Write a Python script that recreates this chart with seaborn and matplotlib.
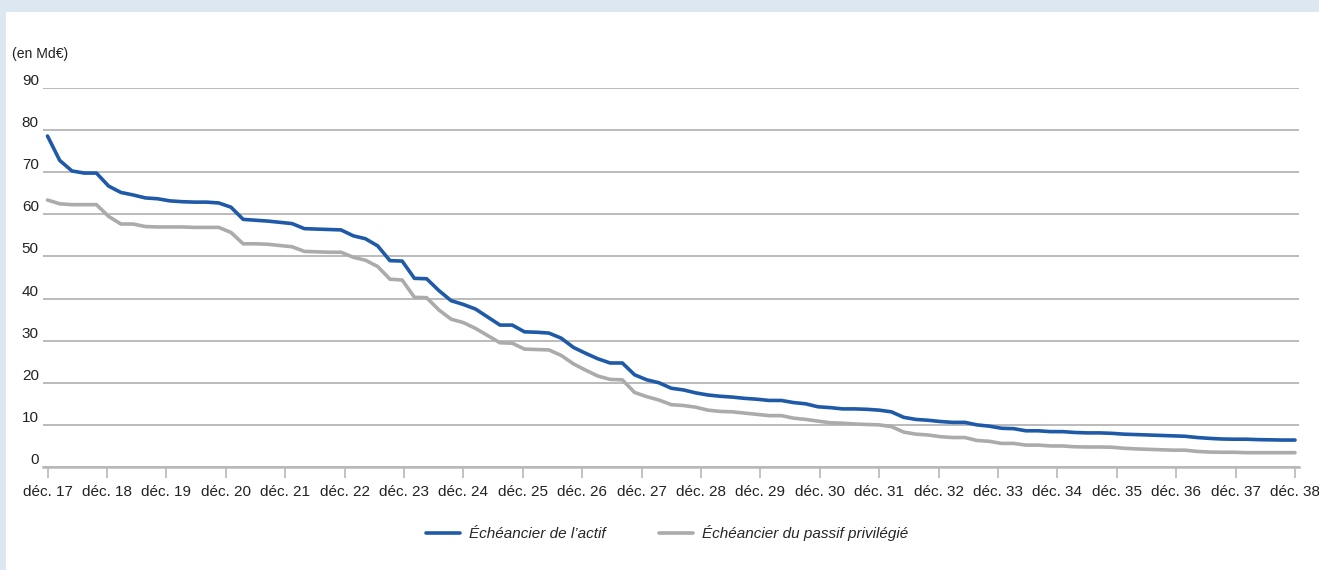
import numpy as np
import pandas as pd
import matplotlib
matplotlib.use("Agg")
import matplotlib.pyplot as plt
from matplotlib import font_manager
from matplotlib.patches import Rectangle
import seaborn as sns

# Amortisation schedules (en Md€), evenly spaced from déc. 17 to déc. 38
actif = [
    78.6, 72.8, 70.3, 69.8, 69.8, 66.7, 65.2, 64.6, 63.9, 63.7,
    63.2, 63.0, 62.9, 62.9, 62.7, 61.7, 58.8, 58.6, 58.4, 58.1,
    57.8, 56.6, 56.5, 56.4, 56.3, 54.9, 54.2, 52.5, 49.0, 48.9,
    44.8, 44.7, 41.9, 39.5, 38.6, 37.5, 35.6, 33.7, 33.7, 32.1,
    32.0, 31.8, 30.6, 28.4, 27.0, 25.7, 24.7, 24.7, 21.9, 20.7,
    20.0, 18.7, 18.3, 17.6, 17.1, 16.8, 16.6, 16.3, 16.1, 15.8,
    15.8, 15.3, 15.0, 14.3, 14.1, 13.8, 13.8, 13.7, 13.5, 13.1,
    11.8, 11.3, 11.1, 10.8, 10.6, 10.6, 10.0, 9.7, 9.2, 9.1,
    8.6, 8.6, 8.4, 8.4, 8.2, 8.1, 8.1, 8.0, 7.8, 7.7,
    7.6, 7.5, 7.4, 7.3, 7.0, 6.8, 6.65, 6.6, 6.6, 6.5,
    6.45, 6.4, 6.4,
]
passif = [
    63.4, 62.5, 62.3, 62.3, 62.3, 59.5, 57.7, 57.7, 57.1, 57.0,
    57.0, 57.0, 56.9, 56.9, 56.9, 55.7, 53.0, 53.0, 52.9, 52.6,
    52.3, 51.2, 51.1, 51.0, 51.0, 49.8, 49.1, 47.6, 44.6, 44.4,
    40.3, 40.2, 37.3, 35.1, 34.3, 32.9, 31.2, 29.5, 29.4, 28.0,
    27.9, 27.8, 26.5, 24.5, 23.0, 21.6, 20.8, 20.7, 17.7, 16.7,
    15.9, 14.8, 14.6, 14.2, 13.5, 13.2, 13.1, 12.8, 12.5, 12.2,
    12.2, 11.6, 11.3, 10.9, 10.5, 10.4, 10.2, 10.1, 10.0, 9.6,
    8.3, 7.8, 7.6, 7.2, 7.0, 7.0, 6.3, 6.1, 5.6, 5.6,
    5.2, 5.2, 5.0, 5.0, 4.8, 4.75, 4.75, 4.7, 4.45, 4.3,
    4.2, 4.1, 4.0, 4.0, 3.7, 3.55, 3.5, 3.5, 3.4, 3.4,
    3.4, 3.4, 3.4,
]
tick_labels = [f"déc. {y}" for y in range(17, 39)]
y_ticks = [0, 10, 20, 30, 40, 50, 60, 70, 80, 90]
series_names = ["Échéancier de l’actif", "Échéancier du passif privilégié"]
colors = ["#1f5aa8", "#ababab"]

n_years = len(tick_labels) - 1
horizon = np.linspace(0, n_years, len(actif))

df = pd.DataFrame({
    "horizon": np.concatenate([horizon, horizon]),
    "montant": actif + passif,
    "serie": [series_names[0]] * len(actif) + [series_names[1]] * len(passif),
})

sns.set_theme(style="white")
available = {f.name for f in font_manager.fontManager.ttflist}
family = "Liberation Sans Narrow" if "Liberation Sans Narrow" in available else "Liberation Sans"
plt.rcParams["font.family"] = [family, "DejaVu Sans"]
fs = 12 if family == "Liberation Sans Narrow" else 11

W, H = 1319, 570
fig = plt.figure(figsize=(W / 100, H / 100), dpi=100, facecolor="#dde7f1")
fig.patches.append(Rectangle((6 / W, 0), 1 - 6 / W, 1 - 12 / H, transform=fig.transFigure,
                             facecolor="white", edgecolor="none", zorder=-10))

ax = fig.add_axes([43 / W, 1 - 467 / H, (1299 - 43) / W, (467 - 88) / H])
ax.set_zorder(2)
ax.set_facecolor("none")

sns.lineplot(data=df, x="horizon", y="montant", hue="serie", palette=colors,
             hue_order=series_names, linewidth=2.6, ax=ax, legend=False)

ax.set_xlim(-4.5 / 59.4, n_years + 4 / 59.4)
ax.set_ylim(0, 90)
ax.set_yticks(y_ticks)
ax.set_yticklabels([str(v) for v in y_ticks])
ax.set_xticks(range(len(tick_labels)))
ax.set_xticklabels(tick_labels)
ax.yaxis.grid(True, color="#a8a8a8", linewidth=1.1)
ax.set_axisbelow(True)
for s in ["top", "right", "left"]:
    ax.spines[s].set_visible(False)
ax.spines["bottom"].set_color("#b8b8b8")
ax.spines["bottom"].set_linewidth(1.8)
ax.tick_params(axis="x", length=8, width=1.2, color="#b8b8b8", direction="out",
               pad=5, labelsize=fs, labelcolor="#222222", bottom=True)
ax.tick_params(axis="y", length=0, pad=3, labelsize=fs, labelcolor="#222222")
for lbl in ax.get_yticklabels():
    lbl.set_verticalalignment("bottom")
ax.set_xlabel("")
ax.set_ylabel("")

fig.text(12 / W, 1 - 54 / H, "(en Md€)", fontsize=fs * 0.92, color="#222222",
         ha="left", va="center")

handles = [plt.Line2D([], [], color=c, linewidth=2.6) for c in colors]
fig.legend(handles, series_names, loc="center", bbox_to_anchor=(667 / W, 1 - 533 / H),
           ncol=2, frameon=False, handlelength=2.2, columnspacing=3.5, handletextpad=0.6,
           prop={"family": [family, "DejaVu Sans"], "style": "italic", "size": fs})

fig.savefig("out.png", dpi=100, facecolor=fig.get_facecolor())
